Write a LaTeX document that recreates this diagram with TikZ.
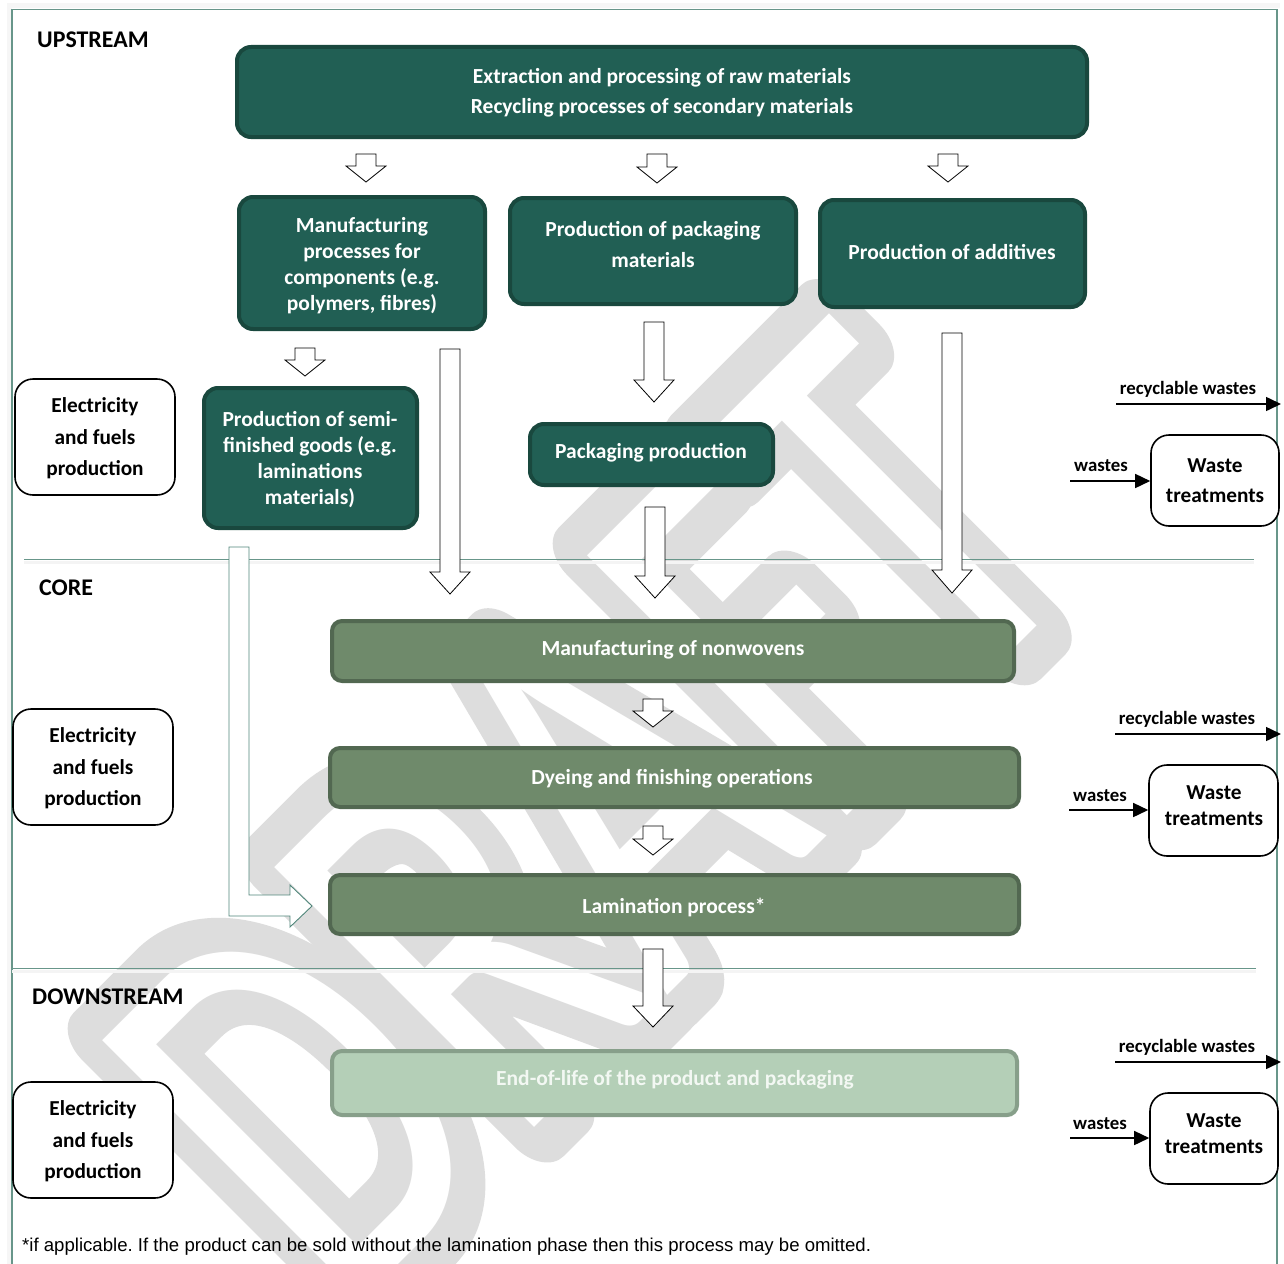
\documentclass[tikz,border=0pt]{standalone}
\usepackage{fontspec}
\setmainfont{Carlito}
\newfontfamily\footfont{Liberation Sans}
\newfontfamily\wmbold[FakeBold=14]{Carlito}
\newfontfamily\wmplain{Carlito}
\usetikzlibrary{calc,arrows.meta}
\definecolor{upf}{RGB}{33,95,84}
\definecolor{upb}{RGB}{25,72,62}
\definecolor{coref}{RGB}{111,138,107}
\definecolor{coreb}{RGB}{82,104,81}
\definecolor{downf}{RGB}{180,207,183}
\definecolor{downb}{RGB}{135,159,138}
\definecolor{framec}{RGB}{104,150,138}
\definecolor{larc}{RGB}{80,134,122}
\definecolor{wmgray}{RGB}{221,221,221}
\definecolor{eoltext}{RGB}{243,248,243}
\tikzset{
  upbox/.style={draw=upb, fill=upf, line width=4pt, rounded corners=14pt, inner sep=0pt},
  corebox/.style={draw=coreb, fill=coref, line width=4pt, rounded corners=10pt, inner sep=0pt},
  downbox/.style={draw=downb, fill=downf, line width=4pt, rounded corners=10pt, inner sep=0pt},
  whitebox/.style={draw=black, fill=white, line width=1.6pt, rounded corners=18pt, inner sep=0pt},
  wtxt/.style={text=white, align=center, inner sep=0pt, font=\bfseries\fontsize{21.5}{#1}\selectfont},
  wtxt/.default=26,
  btxt/.style={text=black, align=center, inner sep=0pt, font=\bfseries\fontsize{21.3}{#1}\selectfont},
  btxt/.default=26,
  sectlabel/.style={anchor=west, inner sep=0pt, font=\bfseries\fontsize{23.9}{28}\selectfont},
  smalllabel/.style={inner sep=0pt, font=\bfseries\fontsize{18.8}{22}\selectfont},
  blockar/.style={draw=black, fill=white, line width=0.8pt, line join=miter},
  lblock/.style={draw=larc, fill=white, line width=0.9pt, line join=miter},
  flowline/.style={draw=black, line width=1.5pt, -{Triangle[length=15pt,width=14pt]}},
  divider/.style={draw=framec, line width=1.2pt},
  wmark/.style={rotate=45, yscale=1.45, inner sep=0pt, line join=round}
}
\newcommand\blockarrowdown[3]{%
  \draw[blockar] let \p1=#1, \p2=#2 in
    (\x1-10pt,\y1) -- (\x1+10pt,\y1) -- (\x1+10pt,\y2+#3pt) -- (\x1+20pt,\y2+#3pt)
    -- (\x1,\y2) -- (\x1-20pt,\y2+#3pt) -- (\x1-10pt,\y2+#3pt) -- cycle;}
\begin{document}
\frenchspacing
\begin{tikzpicture}[x=1pt,y=-1pt]
\path[use as bounding box] (0,0) rectangle (1284,1263);
\begin{scope}
\clip (0,0) rectangle (1284,1263);
\fill[white] (0,0) rectangle (1284,1263);
% watermark
\node[wmark, text=wmgray, font=\wmbold\fontsize{395}{395}\selectfont] (wm) at (588,815) {DRAFT};
\node[wmark, text=white, font=\wmplain\fontsize{395}{395}\selectfont] (wmin) at (588,815) {DRAFT};
% frame and dividers
\draw[gray!7, line width=5pt] (9,1270) -- (9,6) -- (1280,6);
\draw[divider] (12,1270) -- (12,9.5) -- (1277,9.5) -- (1277,1270);
\draw[gray!9, line width=3pt] (24,562) -- (1254,562);
\draw[divider] (24,559.5) -- (1254,559.5);
\draw[gray!9, line width=3pt] (12,971) -- (1256,971);
\draw[divider] (12,968.5) -- (1256,968.5);
\end{scope}

% section labels
\node[sectlabel] (lup) at (37,40) {UPSTREAM};
\node[sectlabel] (lcore) at (39,588) {CORE};
\node[sectlabel] (ldown) at (32,997) {DOWNSTREAM};

% upstream boxes
\node[upbox, minimum width=850pt, minimum height=90pt] (top) at (662,92) {};
\node[wtxt=30] (topT) at (662,93) {Extraction and processing of raw materials\\Recycling processes of secondary materials};
\node[upbox, minimum width=246pt, minimum height=132pt] (man) at (362,263) {};
\node[wtxt=26] (manT) at (362,266) {Manufacturing\\processes for\\components (e.g.\\polymers, fibres)};
\node[upbox, minimum width=286pt, minimum height=106pt] (pkm) at (653,251) {};
\node[wtxt=31] (pkmT) at (653,245) {Production of packaging\\materials};
\node[upbox, minimum width=265pt, minimum height=107pt] (add) at (952.5,253.5) {};
\node[wtxt] (addT) at (952,252) {Production of additives};
\node[upbox, minimum width=213pt, minimum height=140pt] (semi) at (310.5,458) {};
\node[wtxt=26] (semiT) at (310,460) {Production of semi-\\finished goods (e.g.\\laminations\\materials)};
\node[upbox, minimum width=243pt, minimum height=61pt] (pkp) at (651.5,454.5) {};
\node[wtxt] (pkpT) at (651,453) {Packaging production};

% core boxes
\node[corebox, minimum width=682pt, minimum height=60pt] (nonw) at (673,651) {};
\node[wtxt] (nonwT) at (673,650) {Manufacturing of nonwovens};
\node[corebox, minimum width=689pt, minimum height=59pt] (dye) at (674.5,777.5) {};
\node[wtxt] (dyeT) at (672,779) {Dyeing and finishing operations};
\node[corebox, minimum width=689pt, minimum height=59pt] (lam) at (674.5,904.5) {};
\node[wtxt] (lamT) at (674,907) {Lamination process*};

% downstream box
\node[downbox, minimum width=685pt, minimum height=64pt] (eol) at (674.5,1083) {};
\node[wtxt, text=eoltext] (eolT) at (675,1080) {End-of-life of the product and packaging};

% electricity boxes
\node[whitebox, minimum width=160pt, minimum height=116pt] (el1) at (95,437) {};
\node[btxt=31.5] (el1T) at (95,438.5) {Electricity\\and fuels\\production};
\node[whitebox, minimum width=160pt, minimum height=116pt] (el2) at (93,767) {};
\node[btxt=31.5] (el2T) at (93,768.5) {Electricity\\and fuels\\production};
\node[whitebox, minimum width=160pt, minimum height=116pt] (el3) at (93,1140) {};
\node[btxt=31.5] (el3T) at (93,1141.5) {Electricity\\and fuels\\production};

% waste treatment boxes
\node[whitebox, minimum width=128pt, minimum height=91pt] (wt1) at (1215,480.5) {};
\node[btxt=30] (wt1T) at (1215,480.5) {Waste\\treatments};
\node[whitebox, minimum width=129pt, minimum height=91pt] (wt2) at (1213.5,810.5) {};
\node[btxt=26] (wt2T) at (1214,805.5) {Waste\\treatments};
\node[whitebox, minimum width=128pt, minimum height=91pt] (wt3) at (1214,1138.5) {};
\node[btxt=26] (wt3T) at (1214,1133.5) {Waste\\treatments};

% waste flows
\node[smalllabel] (rw1) at (1188,389) {recyclable wastes};
\coordinate (rw1s) at (1116,404);
\coordinate (rw1e) at (1281,404);
\draw[flowline] (rw1s) -- (rw1e);
\node[smalllabel] (w1) at (1101,466) {wastes};
\coordinate (w1s) at (1070,481);
\draw[flowline] (w1s) -- (wt1.west |- w1s);

\node[smalllabel] (rw2) at (1187,719) {recyclable wastes};
\coordinate (rw2s) at (1115,734);
\coordinate (rw2e) at (1281,734);
\draw[flowline] (rw2s) -- (rw2e);
\node[smalllabel] (w2) at (1100,796) {wastes};
\coordinate (w2s) at (1069,810);
\draw[flowline] (w2s) -- (wt2.west |- w2s);

\node[smalllabel] (rw3) at (1187,1047) {recyclable wastes};
\coordinate (rw3s) at (1115,1062);
\coordinate (rw3e) at (1281,1062);
\draw[flowline] (rw3s) -- (rw3e);
\node[smalllabel] (w3) at (1100,1124) {wastes};
\coordinate (w3s) at (1070,1138);
\draw[flowline] (w3s) -- (wt3.west |- w3s);

% block arrows
\blockarrowdown{($(top.south -| man.north)+(4,15)$)}{($(man.north)+(0,-13)$)}{16}
\blockarrowdown{($(top.south -| pkm.north)+(4,15)$)}{($(pkm.north)+(0,-13)$)}{16}
\blockarrowdown{($(top.south -| add.north)+(-4.5,15)$)}{($(add.north)+(0,-16)$)}{16}
\blockarrowdown{($(man.south -| semi.north)+(-5.5,17)$)}{($(semi.north)+(0,-10)$)}{16}
\blockarrowdown{($(man.south)+(88,18)$)}{($(nonw.north)+(0,-25)$)}{22}
\blockarrowdown{($(pkm.south)+(1,16)$)}{($(pkp.north)+(0,-20)$)}{22}
\blockarrowdown{($(pkp.south)+(3.5,20)$)}{($(nonw.north)+(0,-21)$)}{22}
\blockarrowdown{($(add.south)+(-0.5,24)$)}{($(nonw.north)+(0,-26)$)}{23}
\blockarrowdown{($(nonw.south)+(-20,16)$)}{($(dye.north)+(0,-19)$)}{16}
\blockarrowdown{($(dye.south)+(-21.5,17)$)}{($(lam.north)+(0,-18)$)}{16}
\blockarrowdown{($(lam.south)+(-21.5,13)$)}{($(eol.north)+(0,-22)$)}{21}
% bent arrow from semi-finished goods to lamination
\draw[lblock] let \p1=($(semi.south)+(-71.5,17)$), \p2=($(lam.west)+(-16,1.5)$) in
  (\x1-10pt,\y1) -- (\x1+10pt,\y1) -- (\x1+10pt,\y2+11pt) -- (\x2-22pt,\y2+11pt)
  -- (\x2-22pt,\y2+21pt) -- (\p2) -- (\x2-22pt,\y2-21pt) -- (\x2-22pt,\y2-10pt)
  -- (\x1-10pt,\y2-10pt) -- cycle;

% footnote
\node[anchor=west, inner sep=0pt, font=\footfont\fontsize{18.6}{22}\selectfont] (foot) at (22,1247) {*if applicable. If the product can be sold without the lamination phase then this process may be omitted.};
\end{tikzpicture}
\end{document}
